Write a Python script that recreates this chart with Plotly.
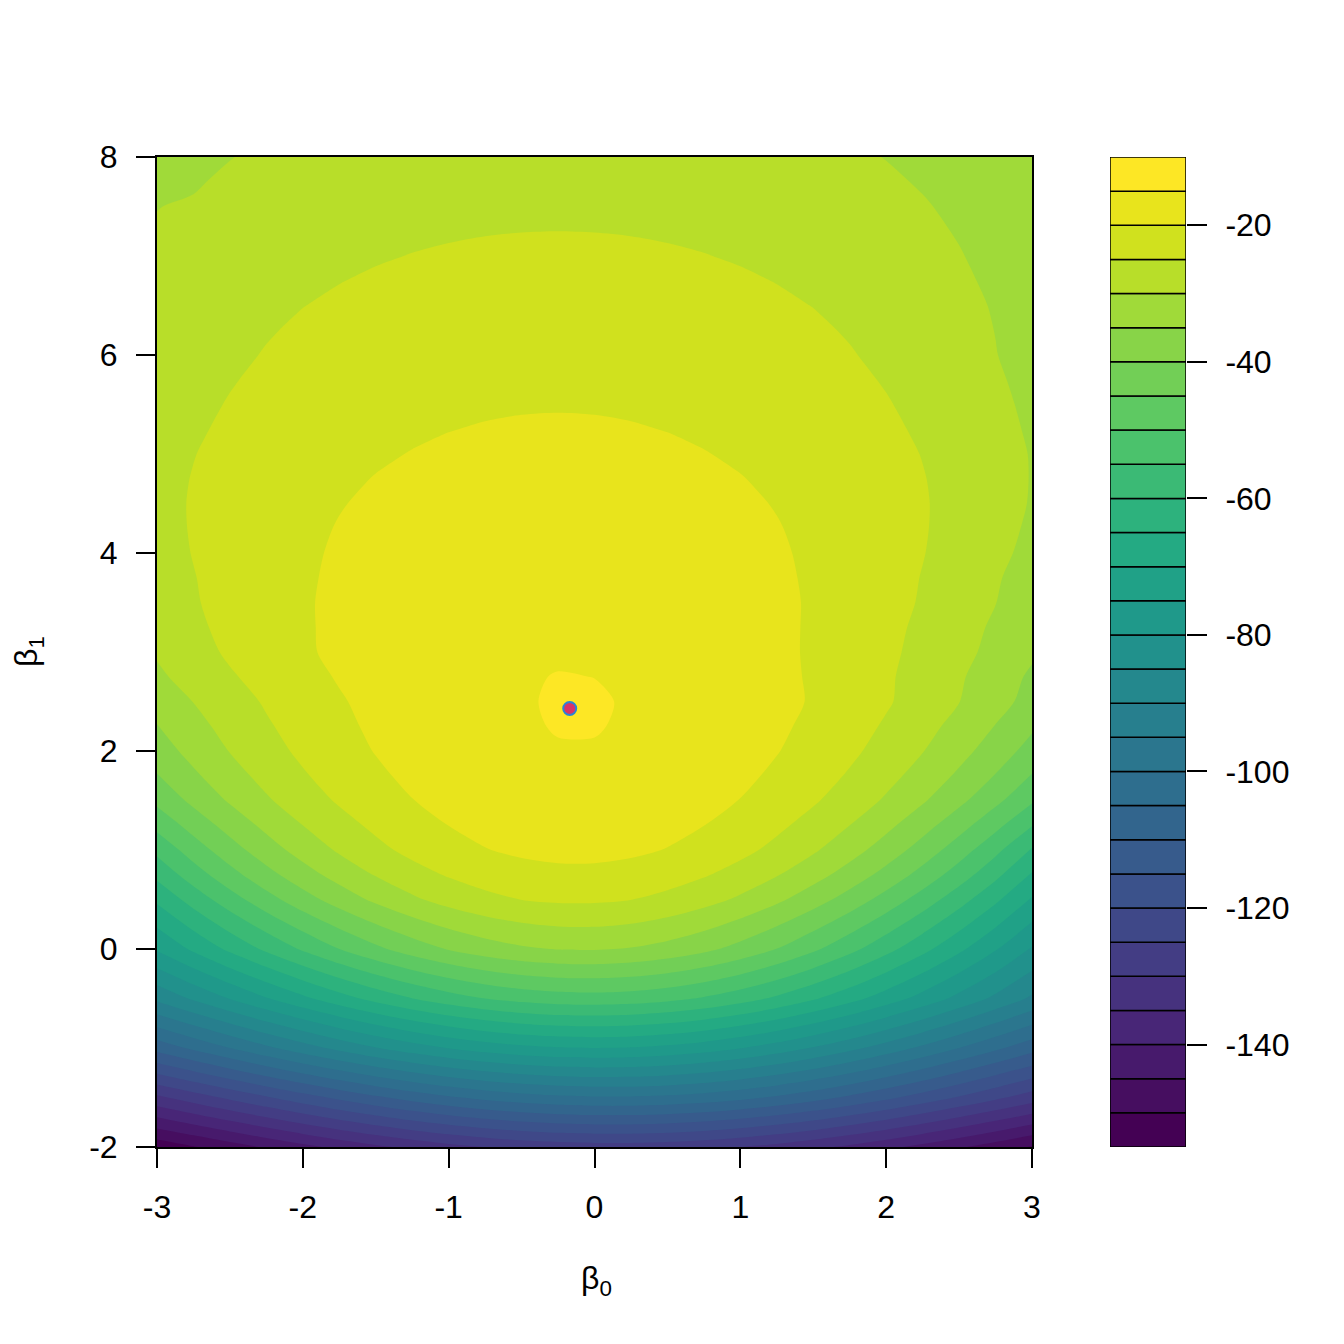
import plotly.graph_objects as go

# ---- grid of the log-likelihood surface ----
beta0 = [-3.0, -2.75, -2.5, -2.25, -2.0, -1.75, -1.5, -1.25, -1.0, -0.75, -0.5, -0.25, 0.0,
         0.25, 0.5, 0.75, 1.0, 1.25, 1.5, 1.75, 2.0, 2.25, 2.5, 2.75, 3.0]
beta1 = [-2.0, -1.5, -1.0, -0.5, 0.0, 0.5, 0.75, 1.0, 1.25, 1.5, 1.75, 2.0, 2.25, 2.5, 2.75,
         3.0, 3.25, 3.5, 3.75, 4.0, 4.25, 4.5, 4.75, 5.0, 5.25, 5.5, 5.75, 6.0, 6.25, 6.5,
         6.75, 7.0, 7.25, 7.5, 7.75, 8.0]

# ---- log-likelihood values, one row per beta1 ----
ll_m2_00 = [-153.43, -150.39, -147.36, -144.36, -141.44, -138.66, -136.06, -133.69, -131.62, -129.89, -128.54, -127.62, -127.16, -127.16, -127.62, -128.54, -129.89, -131.62, -133.69, -136.06, -138.66, -141.44, -144.36, -147.36, -150.39]
ll_m1_50 = [-131.02, -127.49, -123.97, -120.49, -117.11, -113.88, -110.86, -108.12, -105.71, -103.70, -102.14, -101.08, -100.54, -100.54, -101.08, -102.14, -103.70, -105.71, -108.12, -110.86, -113.88, -117.11, -120.49, -123.97, -127.49]
ll_m1_00 = [-108.09, -104.03, -100.00, -96.05, -92.24, -88.64, -85.32, -82.35, -79.81, -77.75, -76.24, -75.31, -75.00, -75.31, -76.24, -77.75, -79.81, -82.35, -85.32, -88.64, -92.24, -96.05, -100.00, -104.03, -108.09]
ll_m0_50 = [-88.84, -84.30, -79.78, -75.37, -71.11, -67.08, -63.38, -60.08, -57.26, -55.00, -53.35, -52.39, -52.11, -52.55, -53.69, -55.50, -57.92, -60.90, -64.38, -68.24, -72.43, -76.85, -81.44, -86.12, -90.82]
ll_p0_00 = [-74.43, -69.10, -63.94, -59.01, -54.35, -50.01, -46.07, -42.60, -39.66, -37.34, -35.70, -34.80, -34.66, -35.30, -36.70, -38.84, -41.66, -45.10, -49.07, -53.51, -58.35, -63.51, -68.94, -74.60, -80.43]
ll_p0_50 = [-64.05, -57.93, -52.20, -46.90, -42.08, -37.77, -34.00, -30.81, -28.22, -26.26, -24.94, -24.28, -24.28, -24.94, -26.26, -28.22, -30.81, -34.00, -37.77, -42.08, -46.90, -52.20, -57.93, -64.05, -70.53]
ll_p0_75 = [-58.71, -52.45, -46.76, -41.65, -37.10, -33.11, -29.70, -26.86, -24.58, -22.88, -21.74, -21.17, -21.17, -21.74, -22.88, -24.58, -26.86, -29.70, -33.11, -37.10, -41.65, -46.76, -52.45, -58.71, -65.53]
ll_p1_00 = [-53.71, -47.59, -42.12, -37.27, -33.03, -29.37, -26.27, -23.71, -21.68, -20.17, -19.16, -18.66, -18.66, -19.16, -20.17, -21.68, -23.71, -26.27, -29.37, -33.03, -37.27, -42.12, -47.59, -53.71, -60.52]
ll_p1_25 = [-48.57, -43.03, -38.11, -33.77, -29.99, -26.74, -23.99, -21.74, -19.95, -18.62, -17.74, -17.30, -17.30, -17.74, -18.62, -19.95, -21.74, -23.99, -26.74, -29.99, -33.77, -38.11, -43.03, -48.57, -54.77]
ll_p1_50 = [-43.78, -38.82, -34.45, -30.61, -27.29, -24.45, -22.07, -20.11, -18.57, -17.43, -16.67, -16.30, -16.30, -16.67, -17.43, -18.57, -20.11, -22.07, -24.45, -27.29, -30.61, -34.45, -38.82, -43.78, -49.36]
ll_p1_75 = [-40.26, -35.82, -31.89, -28.46, -25.48, -22.92, -20.78, -19.02, -17.64, -16.61, -15.93, -15.59, -15.59, -15.93, -16.61, -17.64, -19.02, -20.78, -22.92, -25.48, -28.46, -31.89, -35.82, -40.26, -45.26]
ll_p2_00 = [-37.37, -33.38, -29.84, -26.75, -24.05, -21.75, -19.81, -18.22, -16.96, -16.03, -15.42, -15.11, -15.11, -15.42, -16.03, -16.96, -18.22, -19.81, -21.75, -24.05, -26.75, -29.84, -33.38, -37.37, -41.86]
ll_p2_25 = [-35.18, -31.56, -28.36, -25.54, -23.09, -20.99, -19.21, -17.76, -16.61, -15.75, -15.19, -14.91, -14.91, -15.19, -15.75, -16.61, -17.76, -19.21, -20.99, -23.09, -25.54, -28.36, -31.56, -35.18, -39.23]
ll_p2_50 = [-33.14, -29.91, -27.03, -24.50, -22.28, -20.38, -18.78, -17.46, -16.41, -15.63, -15.12, -14.86, -14.86, -15.12, -15.63, -16.41, -17.46, -18.78, -20.38, -22.28, -24.50, -27.03, -29.91, -33.14, -36.76]
ll_p2_75 = [-30.91, -28.06, -25.53, -23.29, -21.34, -19.67, -18.26, -17.10, -16.20, -15.54, -15.13, -14.95, -15.01, -15.30, -15.84, -16.62, -17.65, -18.93, -20.47, -22.28, -24.38, -26.76, -29.45, -32.45, -35.79]
ll_p3_00 = [-29.45, -26.90, -24.25, -22.19, -20.60, -19.09, -17.89, -16.91, -16.15, -15.61, -15.29, -15.18, -15.29, -15.61, -16.15, -16.91, -17.89, -19.09, -20.52, -22.19, -24.09, -26.24, -28.65, -31.31, -34.24]
ll_p3_25 = [-28.50, -25.86, -23.83, -22.03, -20.47, -19.14, -18.02, -17.11, -16.41, -15.92, -15.62, -15.52, -15.62, -15.92, -16.41, -17.11, -18.02, -19.14, -20.47, -22.03, -23.83, -25.86, -28.16, -30.71, -33.55]
ll_p3_50 = [-27.52, -25.38, -23.49, -21.84, -20.41, -19.19, -18.18, -17.36, -16.72, -16.28, -16.01, -15.92, -16.01, -16.28, -16.72, -17.36, -18.18, -19.19, -20.41, -21.84, -23.49, -25.38, -27.52, -29.92, -32.59]
ll_p3_75 = [-27.20, -25.16, -23.37, -21.82, -20.49, -19.36, -18.43, -17.68, -17.11, -16.70, -16.46, -16.38, -16.46, -16.70, -17.11, -17.68, -18.43, -19.36, -20.49, -21.82, -23.37, -25.16, -27.20, -29.52, -32.13]
ll_p4_00 = [-26.72, -24.85, -23.22, -21.80, -20.59, -19.57, -18.73, -18.05, -17.53, -17.17, -16.95, -16.88, -16.95, -17.17, -17.53, -18.05, -18.73, -19.57, -20.59, -21.80, -23.22, -24.85, -26.72, -28.85, -31.26]
ll_p4_25 = [-26.45, -24.70, -23.18, -21.88, -20.76, -19.83, -19.06, -18.44, -17.97, -17.64, -17.45, -17.38, -17.45, -17.64, -17.97, -18.44, -19.06, -19.83, -20.76, -21.88, -23.18, -24.70, -26.45, -28.44, -30.71]
ll_p4_50 = [-26.31, -24.68, -23.27, -22.06, -21.03, -20.16, -19.46, -18.89, -18.46, -18.16, -17.98, -17.92, -17.98, -18.16, -18.46, -18.89, -19.46, -20.16, -21.03, -22.06, -23.27, -24.68, -26.31, -28.17, -30.30]
ll_p4_75 = [-26.38, -24.83, -23.49, -22.35, -21.37, -20.56, -19.89, -19.36, -18.96, -18.67, -18.51, -18.45, -18.51, -18.67, -18.96, -19.36, -19.89, -20.56, -21.37, -22.35, -23.49, -24.83, -26.38, -28.16, -30.19]
ll_p5_00 = [-26.59, -25.11, -23.84, -22.74, -21.81, -21.03, -20.40, -19.89, -19.50, -19.23, -19.07, -19.02, -19.07, -19.23, -19.50, -19.89, -20.40, -21.03, -21.81, -22.74, -23.84, -25.11, -26.59, -28.29, -30.23]
ll_p5_25 = [-26.98, -25.54, -24.29, -23.22, -22.31, -21.56, -20.94, -20.45, -20.07, -19.81, -19.65, -19.60, -19.65, -19.81, -20.07, -20.45, -20.94, -21.56, -22.31, -23.22, -24.29, -25.54, -26.98, -28.65, -30.55]
ll_p5_50 = [-27.39, -25.98, -24.76, -23.72, -22.84, -22.10, -21.50, -21.02, -20.66, -20.40, -20.25, -20.20, -20.25, -20.40, -20.66, -21.02, -21.50, -22.10, -22.84, -23.72, -24.76, -25.98, -27.39, -29.02, -30.88]
ll_p5_75 = [-27.84, -26.46, -25.26, -24.24, -23.38, -22.66, -22.07, -21.60, -21.25, -21.00, -20.85, -20.80, -20.85, -21.00, -21.25, -21.60, -22.07, -22.66, -23.38, -24.24, -25.26, -26.46, -27.84, -29.44, -31.27]
ll_p6_00 = [-28.31, -26.95, -25.78, -24.78, -23.94, -23.23, -22.66, -22.20, -21.85, -21.61, -21.47, -21.42, -21.47, -21.61, -21.85, -22.20, -22.66, -23.23, -23.94, -24.78, -25.78, -26.95, -28.31, -29.88, -31.68]
ll_p6_25 = [-28.60, -27.33, -26.22, -25.28, -24.48, -23.81, -23.26, -22.83, -22.50, -22.26, -22.13, -22.08, -22.13, -22.26, -22.50, -22.83, -23.26, -23.81, -24.48, -25.28, -26.22, -27.33, -28.60, -30.07, -31.74]
ll_p6_50 = [-28.93, -27.74, -26.71, -25.82, -25.06, -24.43, -23.91, -23.50, -23.18, -22.96, -22.82, -22.78, -22.82, -22.96, -23.18, -23.50, -23.91, -24.43, -25.06, -25.82, -26.71, -27.74, -28.93, -30.30, -31.85]
ll_p6_75 = [-29.38, -28.25, -27.26, -26.42, -25.69, -25.09, -24.59, -24.19, -23.88, -23.67, -23.54, -23.50, -23.54, -23.67, -23.88, -24.19, -24.59, -25.09, -25.69, -26.42, -27.26, -28.25, -29.38, -30.67, -32.14]
ll_p7_00 = [-29.55, -28.75, -27.82, -27.02, -26.34, -25.76, -25.29, -24.91, -24.62, -24.41, -24.29, -24.25, -24.29, -24.41, -24.62, -24.91, -25.29, -25.76, -26.34, -27.02, -27.82, -28.75, -29.81, -31.03, -32.40]
ll_p7_25 = [-29.80, -29.24, -28.37, -27.62, -26.97, -26.43, -25.98, -25.62, -25.35, -25.15, -25.04, -25.00, -25.04, -25.15, -25.35, -25.62, -25.98, -26.43, -26.97, -27.62, -28.37, -29.24, -30.24, -31.38, -32.67]
ll_p7_50 = [-30.05, -29.73, -28.92, -28.21, -27.61, -27.09, -26.67, -26.34, -26.08, -25.89, -25.79, -25.75, -25.79, -25.89, -26.08, -26.34, -26.67, -27.09, -27.61, -28.21, -28.92, -29.73, -30.67, -31.74, -32.94]
ll_p7_75 = [-30.60, -30.28, -29.50, -28.82, -28.24, -27.76, -27.36, -27.04, -26.79, -26.62, -26.51, -26.48, -26.51, -26.62, -26.79, -27.04, -27.36, -27.76, -28.24, -28.82, -29.50, -30.28, -31.17, -32.20, -33.35]
ll_p8_00 = [-31.50, -30.84, -30.09, -29.44, -28.89, -28.42, -28.04, -27.73, -27.50, -27.33, -27.23, -27.20, -27.23, -27.33, -27.50, -27.73, -28.04, -28.42, -28.89, -29.44, -30.09, -30.84, -31.70, -32.69, -33.81]

loglik = [ll_m2_00, ll_m1_50, ll_m1_00, ll_m0_50, ll_p0_00, ll_p0_50, ll_p0_75, ll_p1_00,
          ll_p1_25, ll_p1_50, ll_p1_75, ll_p2_00, ll_p2_25, ll_p2_50, ll_p2_75, ll_p3_00,
          ll_p3_25, ll_p3_50, ll_p3_75, ll_p4_00, ll_p4_25, ll_p4_50, ll_p4_75, ll_p5_00,
          ll_p5_25, ll_p5_50, ll_p5_75, ll_p6_00, ll_p6_25, ll_p6_50, ll_p6_75, ll_p7_00,
          ll_p7_25, ll_p7_50, ll_p7_75, ll_p8_00]

# maximum-likelihood estimate
mle_beta0 = [-0.17]
mle_beta1 = [2.43]

# contour levels / colour key
level_lo, level_hi, level_step = -155, -10, 5
x_ticks = [-3, -2, -1, 0, 1, 2, 3]
y_ticks = [-2, 0, 2, 4, 6, 8]
key_ticks = [-140, -120, -100, -80, -60, -40, -20]

# ---- viridis colours ----
viridis_stops = ["#440154", "#471365", "#482475", "#463480", "#414487", "#3b528b",
                 "#355f8d", "#2f6c8e", "#2a788e", "#25848e", "#21918c", "#1e9c89",
                 "#22a884", "#2fb47c", "#44bf70", "#5ec962", "#7ad151", "#9bd93c",
                 "#bddf26", "#dfe318", "#fde725"]
viridis_scale = [[i / (len(viridis_stops) - 1), c] for i, c in enumerate(viridis_stops)]


def hex2rgb(h):
    h = h.lstrip("#")
    return tuple(int(h[i:i + 2], 16) for i in (0, 2, 4))


def sample(t):
    n = len(viridis_stops) - 1
    pos = t * n
    i = min(int(pos), n - 1)
    f = pos - i
    a, b = hex2rgb(viridis_stops[i]), hex2rgb(viridis_stops[i + 1])
    return "rgb(%d,%d,%d)" % tuple(round(a[k] + (b[k] - a[k]) * f) for k in range(3))


levels = list(range(level_lo, level_hi + 1, level_step))
n_bands = len(levels) - 1
band_colors = [sample(k / (n_bands - 1)) for k in range(n_bands)]

W = H = 1344
OFF = 8  # page margin of the html body
px_l, px_r, px_t, px_b = 157 - OFF, 1032 - OFF, 157 - OFF, 1147 - OFF
key_l, key_r = 1110 - OFF, 1186 - OFF
FONT = "Liberation Sans, Arial, Helvetica, sans-serif"
FS = 32

fig = go.Figure()

fig.add_trace(go.Contour(
    x=beta0, y=beta1, z=loglik,
    colorscale=viridis_scale,
    autocontour=False,
    contours=dict(start=level_lo + level_step, end=level_hi - level_step,
                  size=level_step, coloring="fill", showlines=False),
    line=dict(width=0, smoothing=0.85),
    showscale=False,
    hoverinfo="skip",
    xaxis="x", yaxis="y",
))

fig.add_trace(go.Scatter(
    x=mle_beta0, y=mle_beta1, mode="markers",
    marker=dict(size=13, color="#D8336A", line=dict(color="#2B83D6", width=2)),
    showlegend=False, hoverinfo="skip", xaxis="x", yaxis="y",
))

# colour key: one box per contour band
fig.add_trace(go.Bar(
    x=[0] * n_bands, y=[level_step] * n_bands, base=levels[:-1],
    width=1.0,
    marker=dict(color=band_colors, line=dict(color="black", width=1.5)),
    showlegend=False, hoverinfo="skip", xaxis="x2", yaxis="y2",
))

axis_common = dict(
    ticks="outside", ticklen=19, tickwidth=1.6, tickcolor="black",
    showline=True, linecolor="black", linewidth=2, mirror=True,
    showgrid=False, zeroline=False, automargin=False,
    tickfont=dict(family=FONT, size=FS, color="black"),
)

fig.update_layout(
    width=W, height=H,
    margin=dict(l=0, r=0, t=0, b=0, pad=0),
    paper_bgcolor="white", plot_bgcolor="white",
    barmode="overlay",
    showlegend=False,
    xaxis=dict(domain=[px_l / W, px_r / W], range=[-3, 3],
               tickvals=x_ticks, ticktext=[str(v) for v in x_ticks],
               ticklabelstandoff=12, anchor="y", **axis_common),
    yaxis=dict(domain=[1 - px_b / H, 1 - px_t / H], range=[-2, 8],
               tickvals=y_ticks, ticktext=[str(v) for v in y_ticks],
               ticklabelstandoff=12, anchor="x", **axis_common),
    xaxis2=dict(domain=[key_l / W, key_r / W], range=[-0.5, 0.5],
                visible=False, anchor="y2", fixedrange=True, automargin=False),
    yaxis2=dict(domain=[1 - px_b / H, 1 - px_t / H], range=[level_lo, level_hi],
                side="right", anchor="x2", automargin=False,
                tickvals=key_ticks, ticktext=[str(v) for v in key_ticks],
                ticks="outside", ticklen=20, tickwidth=1.6, tickcolor="black",
                showline=False, showgrid=False, zeroline=False,
                ticklabelstandoff=12,
                tickfont=dict(family=FONT, size=FS, color="black")),
    annotations=[
        dict(text="β<sub>0</sub>", x=(596 - OFF) / W, y=1 - (1280 - OFF) / H,
             xref="paper", yref="paper",
             showarrow=False, font=dict(family=FONT, size=FS, color="black"),
             xanchor="center", yanchor="middle"),
        dict(text="β<sub>1</sub>", x=(28 - OFF) / W, y=1 - (652 - OFF) / H,
             xref="paper", yref="paper",
             showarrow=False, textangle=-90, font=dict(family=FONT, size=FS, color="black"),
             xanchor="center", yanchor="middle"),
    ],
)

fig.write_html("out.html")
